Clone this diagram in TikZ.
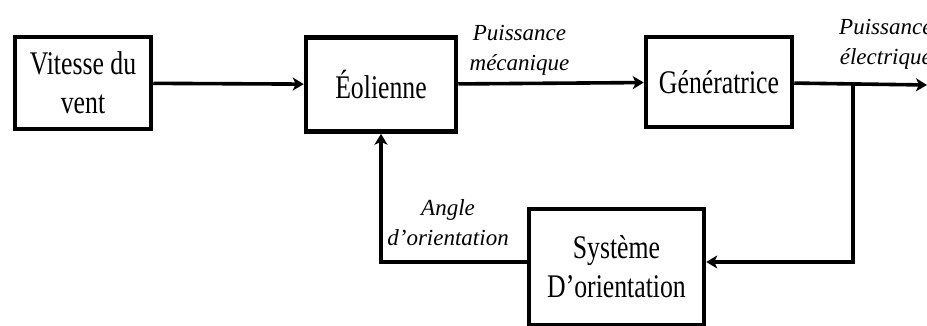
\documentclass[tikz,border=0pt]{standalone}
\usepackage{fontspec}
\setmainfont{Liberation Serif}
\newfontfamily\blocfont[FakeStretch=0.78]{Liberation Serif}
\usetikzlibrary{arrows.meta}

\tikzset{
  bloc/.style={rectangle,draw,line width=4.5pt,align=center,inner sep=0pt,
    font=\blocfont\fontsize{33}{39}\selectfont},
  signal/.style={align=center,inner sep=0pt,font=\itshape\fontsize{23}{30}\selectfont},
  fleche/.style={-{Stealth[length=11pt,width=13pt,inset=3pt]},line width=3.6pt}
}

\begin{document}
\begin{tikzpicture}[x=1pt,y=-1pt]
        \useasboundingbox (0,0) rectangle (927,326);

        \begin{scope}[every node/.style={bloc}]
            \node[minimum width=136pt,minimum height=92pt] (V) at (83,83) {Vitesse du\\vent};
            \node[minimum width=150pt,minimum height=94pt] (E) at (381,84.5) {Éolienne};
            \node[minimum width=146pt,minimum height=90pt] (G) at (719,82) {Génératrice};
            \node[minimum width=175pt,minimum height=116pt] (S) at (616.5,267) {Système\\D’orientation};
        \end{scope}

        \coordinate (out) at (927,85);
        \coordinate (B) at (853,85);
        \coordinate (Sin) at (S.east |- 0,262);
        \coordinate (Sout) at (S.west |- 0,262);

        \begin{scope}[every edge/.style={draw,fleche}]
            \path (V) edge (E);
            \path (E) edge node[signal, pos=0.33, above=6pt] {Puissance\\mécanique} (G);
            \path (G) edge node[signal, pos=0.69, above=13pt] {Puissance\\électrique} (out);
            \draw[fleche] (B) |- (Sin);
            \draw[fleche] (Sout) -| node[signal, pos=0.27, above=14pt] {Angle\\d’orientation} (E.south);
        \end{scope}
\end{tikzpicture}
\end{document}
